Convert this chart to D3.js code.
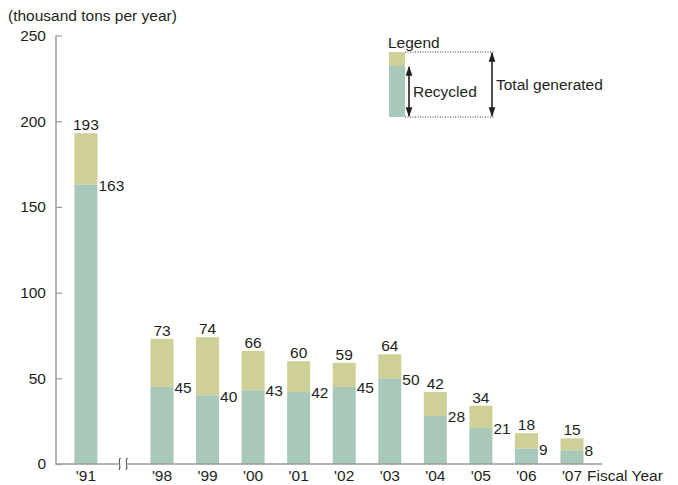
<!DOCTYPE html>
<html>
<head>
<meta charset="utf-8">
<script src="https://cdn.jsdelivr.net/npm/d3@7"></script>
<style>
	body { margin: 0; background: #fff; }
	svg text { font-family: "Liberation Sans", Arial, sans-serif; fill: #231f20; font-size: 15.5px; }
</style>
</head>
<body>
<div id="chart"></div>
<script>
// data
const years = ["'91", "'98", "'99", "'00", "'01", "'02", "'03", "'04", "'05", "'06", "'07"];
const totals = [193, 73, 74, 66, 60, 59, 64, 42, 34, 18, 15];
const recycled = [163, 45, 40, 43, 42, 45, 50, 28, 21, 9, 8];
const yTicks = [0, 50, 100, 150, 200, 250];

const width = 678;
const height = 485;
const olive = "#cfd096";
const teal = "#a8c8b9";
const axisColor = "#9a9a9a";

const svg = d3
	.select("#chart")
	.append("svg")
	.attr("width", width)
	.attr("height", height);

const y = d3.scaleLinear().domain([0, 250]).range([464, 35.5]);

// '91 sits before the axis break, the rest are evenly spaced
const slot = (i) => (i === 0 ? -1.67 : i - 1);
const x = d3.scaleLinear().domain([0, 9]).range([162, 572]);
const barW = 23;

const data = years.map((d, i) => ({ year: d, total: totals[i], rec: recycled[i], pos: x(slot(i)) }));

// axis title
svg.append("text")
	.attr("x", 8)
	.attr("y", 21)
	.text("(thousand tons per year)");

// y axis
const yAxis = d3.axisRight(y).tickValues(yTicks).tickSize(6).tickFormat("");
const yg = svg.append("g").attr("transform", "translate(56,0)").call(yAxis);
yg.select(".domain").attr("stroke", axisColor).attr("stroke-width", 1.5)
	.attr("d", `M0,${y(250)}V${y(0)}`);
yg.selectAll(".tick line").attr("stroke", axisColor).attr("stroke-width", 1.2);

svg.append("g")
	.selectAll("text")
	.data(yTicks)
	.enter()
	.append("text")
	.attr("x", 46)
	.attr("y", (d) => y(d))
	.attr("dy", "0.35em")
	.attr("text-anchor", "end")
	.text((d) => d);

// bars
const bars = svg.append("g");
bars.selectAll("rect.total")
	.data(data)
	.enter()
	.append("rect")
	.attr("class", "total")
	.attr("x", (d) => d.pos - barW / 2)
	.attr("y", (d) => y(d.total))
	.attr("width", barW)
	.attr("height", (d) => y(d.rec) - y(d.total))
	.attr("fill", olive);

bars.selectAll("rect.rec")
	.data(data)
	.enter()
	.append("rect")
	.attr("class", "rec")
	.attr("x", (d) => d.pos - barW / 2)
	.attr("y", (d) => y(d.rec))
	.attr("width", barW)
	.attr("height", (d) => y(0) - y(d.rec))
	.attr("fill", teal);

// value labels
svg.append("g")
	.selectAll("text")
	.data(data)
	.enter()
	.append("text")
	.attr("x", (d) => d.pos)
	.attr("y", (d) => y(d.total) - 3)
	.attr("text-anchor", "middle")
	.text((d) => d.total);

svg.append("g")
	.selectAll("text")
	.data(data)
	.enter()
	.append("text")
	.attr("x", (d) => d.pos + barW / 2 + 1)
	.attr("y", (d) => y(d.rec))
	.attr("dy", "0.4em")
	.text((d) => d.rec);

// x axis with a break between '91 and '98
const x0 = y(0);
svg.append("path")
	.attr("d", `M55.3,${x0}H118.5M127.5,${x0}H602`)
	.attr("stroke", axisColor)
	.attr("stroke-width", 1.5)
	.attr("fill", "none");
[119, 126].forEach((bx) => {
	svg.append("path")
		.attr("d", `M${bx + 1.5},${x0 - 6} C${bx - 2},${x0 - 3} ${bx + 3},${x0 + 2} ${bx},${x0 + 6}`)
		.attr("stroke", "#555")
		.attr("stroke-width", 1.1)
		.attr("fill", "none");
});

svg.append("g")
	.selectAll("text")
	.data(data)
	.enter()
	.append("text")
	.attr("x", (d) => d.pos)
	.attr("y", 480.5)
	.attr("text-anchor", "middle")
	.text((d) => d.year);

svg.append("text")
	.attr("x", 587)
	.attr("y", 480.5)
	.text("Fiscal Year");

// legend
const lg = svg.append("g");
lg.append("text").attr("x", 388).attr("y", 48).text("Legend");
lg.append("rect").attr("x", 389).attr("y", 52).attr("width", 16).attr("height", 14).attr("fill", olive);
lg.append("rect").attr("x", 389).attr("y", 66).attr("width", 16).attr("height", 51).attr("fill", teal);
[52, 117].forEach((ly) => {
	lg.append("line")
		.attr("x1", 405).attr("x2", 494)
		.attr("y1", ly).attr("y2", ly)
		.attr("stroke", "#333")
		.attr("stroke-width", 1)
		.attr("stroke-dasharray", "1,1.5");
});

const defs = svg.append("defs");
defs.append("marker")
	.attr("id", "arrow")
	.attr("viewBox", "0 0 10 10")
	.attr("refX", 9)
	.attr("refY", 5)
	.attr("markerWidth", 6)
	.attr("markerHeight", 6)
	.attr("orient", "auto-start-reverse")
	.append("path")
	.attr("d", "M0,1.5 L10,5 L0,8.5 Z")
	.attr("fill", "#231f20");

[[409, 67, 116], [492, 53, 116]].forEach(([ax, a1, a2]) => {
	lg.append("line")
		.attr("x1", ax).attr("x2", ax)
		.attr("y1", a1).attr("y2", a2)
		.attr("stroke", "#231f20")
		.attr("stroke-width", 1.6)
		.attr("marker-start", "url(#arrow)")
		.attr("marker-end", "url(#arrow)");
});
lg.append("text").attr("x", 413).attr("y", 97).text("Recycled");
lg.append("text").attr("x", 496).attr("y", 90).text("Total generated");
</script>
</body>
</html>
